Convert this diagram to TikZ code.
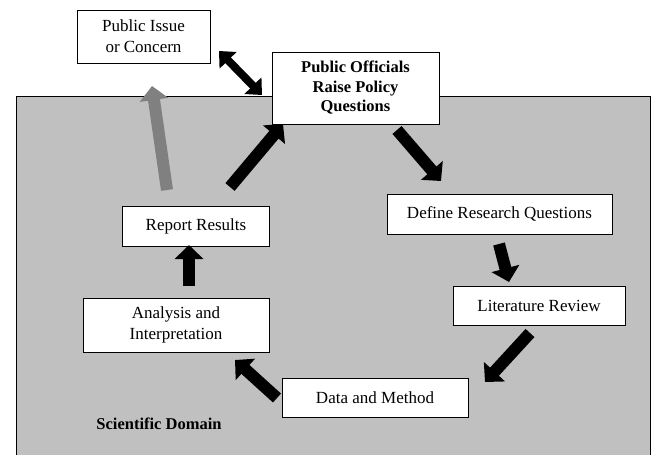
\documentclass[tikz,border=0pt]{standalone}
\usepackage{fontspec}
\setmainfont{Liberation Serif}
\usetikzlibrary{arrows.meta}
\definecolor{domaingray}{RGB}{192,192,192}
\definecolor{grayarrow}{RGB}{128,128,128}
\begin{document}
\begin{tikzpicture}[x=1pt,y=-1pt,
  box/.style={draw=black, fill=white, line width=0.8pt, align=center, inner sep=0pt,
    font=\fontsize{17}{21}\selectfont},
  fat/.style={line width=12pt, -{Triangle[length=14pt,width=28pt]}},
  fatboth/.style={line width=8pt, {Triangle[length=13pt,width=23pt]}-{Triangle[length=13pt,width=23pt]}}]
\useasboundingbox (0,0) rectangle (656,455);
\fill[domaingray] (16,96) rectangle (650,470);
\draw[line width=0.8pt] (16,470) -- (16,96) -- (650,96) -- (650,470);

\node[box, minimum width=133pt, minimum height=53pt] (issue) at (143.5,36.5) {Public Issue\\or Concern};
\node[box, minimum width=167pt, minimum height=72pt, font=\fontsize{16.5}{19.5}\selectfont\bfseries] (officials) at (355.5,88) {Public Officials\\Raise Policy\\Questions};
\node[box, minimum width=225pt, minimum height=40pt] (define) at (499.5,214) {Define Research Questions};
\node[box, minimum width=172pt, minimum height=39pt] (lit) at (539,305.5) {Literature Review};
\node[box, minimum width=186pt, minimum height=39pt] (data) at (375,397.5) {Data and Method};
\node[box, minimum width=186pt, minimum height=54pt] (analysis) at (176,325) {Analysis and\\Interpretation};
\node[box, minimum width=147pt, minimum height=40pt] (report) at (196,226) {Report Results};
\node[font=\fontsize{16.5}{18}\selectfont\bfseries] (domainlabel) at (159,424) {Scientific Domain};

\coordinate (a1s) at (219,51);  \coordinate (a1e) at (262,95);
\coordinate (g1s) at (167,190); \coordinate (g1e) at (152,86);
\coordinate (r1s) at (230,187); \coordinate (r1e) at (283,124);
\coordinate (o1s) at (397,130); \coordinate (o1e) at (441,181);
\coordinate (d1s) at (499,244); \coordinate (d1e) at (509,282);
\coordinate (l1s) at (530,333); \coordinate (l1e) at (485,382);
\coordinate (m1s) at (277,398); \coordinate (m1e) at (235,360);
\coordinate (n1s) at (189,286); \coordinate (n1e) at (189,245);

\draw[fatboth] (a1s) -- (a1e);
\draw[fat, grayarrow] (g1s) -- (g1e);
\draw[fat] (r1s) -- (r1e);
\draw[fat] (o1s) -- (o1e);
\draw[fat] (d1s) -- (d1e);
\draw[fat] (l1s) -- (l1e);
\draw[fat] (m1s) -- (m1e);
\draw[fat] (n1s) -- (n1e);
\end{tikzpicture}
\end{document}
